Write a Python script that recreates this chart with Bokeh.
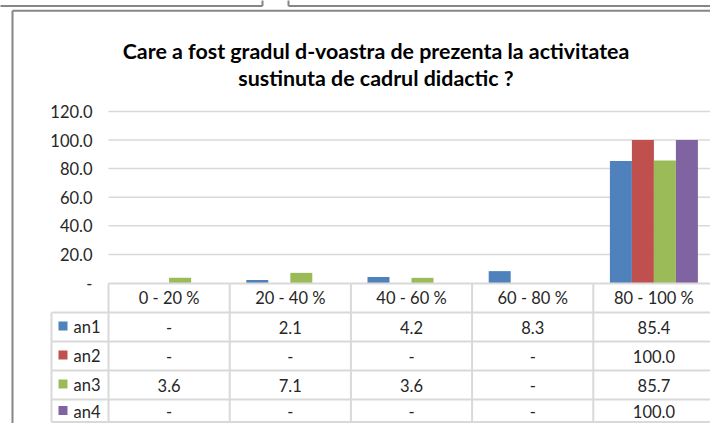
from bokeh.plotting import figure
from bokeh.models import Range1d
from bokeh.core.properties import value
from bokeh.embed import file_html
from bokeh.resources import INLINE

# ---------------- data ----------------
categories = ["0 - 20 %", "20 - 40 %", "40 - 60 %", "60 - 80 %", "80 - 100 %"]
series_names = ["an1", "an2", "an3", "an4"]
an1 = [0.0, 2.1, 4.2, 8.3, 85.4]
an2 = [0.0, 0.0, 0.0, 0.0, 100.0]
an3 = [3.6, 7.1, 3.6, 0.0, 85.7]
an4 = [0.0, 0.0, 0.0, 0.0, 100.0]
y_ticks = [0, 20, 40, 60, 80, 100, 120]
y_tick_labels = ["-", "20.0", "40.0", "60.0", "80.0", "100.0", "120.0"]
title_lines = ["Care a fost gradul d-voastra de prezenta la activitatea",
               "sustinuta de cadrul didactic ?"]

colors = ["#4F81BD", "#C0504D", "#9BBB59", "#8064A2"]
series = [an1, an2, an3, an4]

FONT = "Lato"
TXT = "#262626"
GRID = "#d9d9d9"
FRAME = "#868686"

W, H = 710, 423
# layout helpers: reference-pixel position -> data coordinate
COLW = 121.2
PXU = 1.43
def px2x(X):
    return (X - 108.0) / COLW
def px2y(Y):
    return (282.5 - Y) / PXU

p = figure(width=W, height=H,
           x_range=Range1d(px2x(0), px2x(W)),
           y_range=Range1d(px2y(H), px2y(0)),
           output_backend="svg", toolbar_location=None,
           x_axis_location=None, y_axis_location=None,
           min_border=0, outline_line_color=None,
           background_fill_color="white", border_fill_color="white")
p.grid.visible = False

n = len(categories)

# neighbouring chart frames at the very top
p.segment(x0=[px2x(-5), px2x(288), px2x(262), px2x(288)],
          y0=[px2y(5.5), px2y(5.5), px2y(-5), px2y(-5)],
          x1=[px2x(262), px2x(740), px2x(262), px2x(288)],
          y1=[px2y(5.5), px2y(5.5), px2y(5.5), px2y(5.5)],
          line_color=FRAME, line_width=2)

# chart border (outer frame of this chart)
p.segment(x0=[px2x(12), px2x(12)], y0=[px2y(10.3), px2y(10.3)],
          x1=[px2x(740), px2x(12)], y1=[px2y(10.3), px2y(460)],
          line_color=FRAME, line_width=2)

# gridlines
grid_vals = [t for t in y_ticks if t > 0]
p.segment(x0=[0] * len(grid_vals), x1=[n] * len(grid_vals),
          y0=grid_vals, y1=grid_vals, line_color=GRID, line_width=1.5)

# y tick labels
p.text(x=[px2x(92)] * len(y_ticks), y=y_ticks, text=y_tick_labels,
       text_font=value(FONT), text_font_size="16.5px", text_color=TXT,
       text_align="right", text_baseline="middle")

# bars
bw = 22.0 / COLW
for i, (vals, col) in enumerate(zip(series, colors)):
    xs = [k + 0.5 + (i - 1.5) * bw for k in range(n)]
    p.vbar(x=xs, top=vals, bottom=0, width=bw, fill_color=col, line_color=None)

# data table
row_tops = [283, 312, 341, 370, 399, 421.5]
hx0 = [0] + [px2x(51)] * 5
hy = [px2y(y) for y in row_tops]
p.segment(x0=hx0, x1=[n] * 6, y0=hy, y1=hy, line_color=GRID, line_width=2)
vx = [px2x(51)] + list(range(n + 1))
vy0 = [px2y(312)] + [px2y(283)] * (n + 1)
p.segment(x0=vx, x1=vx, y0=vy0, y1=[px2y(421.5)] * (n + 2), line_color=GRID, line_width=2)

# header
p.text(x=[k + 0.5 for k in range(n)], y=[px2y(297.5)] * n, text=categories,
       text_font=value(FONT), text_font_size="16.5px", text_color=TXT,
       text_align="center", text_baseline="middle")

row_centers = [326.5, 355.5, 384.5, 411]
for r, (name, vals, col) in enumerate(zip(series_names, series, colors)):
    yc = px2y(row_centers[r])
    cells = ["-" if v == 0 else f"{v:.1f}" for v in vals]
    p.text(x=[k + 0.5 for k in range(n)], y=[yc] * n, text=cells,
           text_font=value(FONT), text_font_size="16.5px", text_color=TXT,
           text_align="center", text_baseline="middle")
    p.scatter(x=[px2x(62.5)], y=[px2y(row_centers[r] - 1)], marker="square", size=9,
              fill_color=col, line_color=None)
    p.text(x=[px2x(73)], y=[yc], text=[name],
           text_font=value(FONT), text_font_size="16.5px", text_color=TXT,
           text_align="left", text_baseline="middle")

# title
p.text(x=[px2x(375.5)] * 2, y=[px2y(50), px2y(77)], text=title_lines,
       text_font=value(FONT), text_font_size="21.4px", text_font_style="bold",
       text_color="#000000", text_align="center", text_baseline="alphabetic")

open("out.html", "w").write(file_html(p, INLINE))
